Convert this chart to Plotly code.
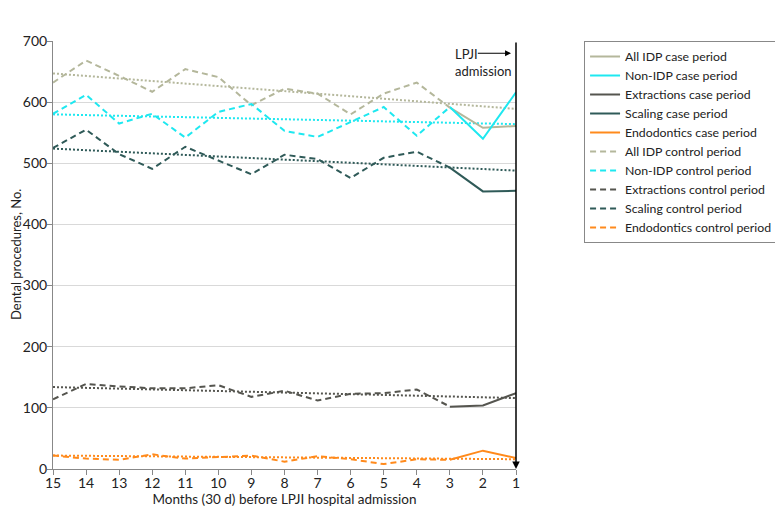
import plotly.graph_objects as go

# ---- data ----
months_control = [15, 14, 13, 12, 11, 10, 9, 8, 7, 6, 5, 4, 3]
months_case = [3, 2, 1]

all_idp_control = [632, 668, 643, 617, 654, 641, 595, 622, 614, 580, 614, 632, 591]
all_idp_case = [591, 558, 561]

non_idp_control = [581, 612, 565, 581, 542, 584, 597, 553, 543, 568, 592, 545, 592]
non_idp_case = [592, 540, 616]

extractions_control = [114, 139, 135, 132, 132, 137, 118, 128, 112, 123, 124, 130, 102]
extractions_case = [102, 104, 124]

scaling_control = [525, 555, 515, 491, 527, 505, 482, 514, 507, 476, 509, 519, 493]
scaling_case = [493, 454, 455]

endo_control = [22, 17, 15, 24, 17, 20, 22, 12, 21, 16, 8, 16, 15]
endo_case = [15, 30, 18]

# trend lines (dotted), values at month 15 and month 1
trend_months = [15, 1]
all_idp_trend = [647, 589]
non_idp_trend = [580, 564]
extractions_trend = [134, 116]
scaling_trend = [524, 488]
endo_trend = [22, 16]

names = ["All IDP", "Non-IDP", "Extractions", "Scaling", "Endodontics"]
colors = ["#b4b79b", "#1ee8f0", "#55554f", "#2f5a58", "#ff8a1c"]
controls = [all_idp_control, non_idp_control, extractions_control, scaling_control, endo_control]
cases = [all_idp_case, non_idp_case, extractions_case, scaling_case, endo_case]
trends = [all_idp_trend, non_idp_trend, extractions_trend, scaling_trend, endo_trend]

FONT = "Lato"
TXT = "#222"

fig = go.Figure()

for n, c, t in zip(names, colors, trends):
    fig.add_trace(go.Scatter(x=trend_months, y=t, mode="lines", showlegend=False,
                             hoverinfo="skip",
                             line=dict(color=c, width=2, dash="2px,2px")))

for n, c, v in zip(names, colors, cases):
    fig.add_trace(go.Scatter(x=months_case, y=v, mode="lines", name=f"{n} case period",
                             line=dict(color=c, width=2)))

for n, c, v in zip(names, colors, controls):
    fig.add_trace(go.Scatter(x=months_control, y=v, mode="lines", name=f"{n} control period",
                             line=dict(color=c, width=2, dash="6px,4px")))

annotations = [
    # period arrows
    dict(x=3.62, y=713, ax=14.92, ay=713, xref="x", yref="y", axref="x", ayref="y",
         text="", showarrow=True, arrowhead=2, arrowside="end+start", arrowsize=1,
         arrowwidth=1.5, arrowcolor="black"),
    dict(x=1.08, y=713, ax=3.58, ay=713, xref="x", yref="y", axref="x", ayref="y",
         text="", showarrow=True, arrowhead=2, arrowside="end+start", arrowsize=1,
         arrowwidth=1.5, arrowcolor="black"),
    dict(x=9.3, y=733, xref="x", yref="y", text="Control period", showarrow=False,
         font=dict(size=13, color=TXT, family=FONT)),
    dict(x=2.35, y=733, xref="x", yref="y", text="Case period", showarrow=False,
         font=dict(size=13, color=TXT, family=FONT)),
    # admission line
    dict(x=1, y=0, ax=1, ay=700, xref="x", yref="y", axref="x", ayref="y",
         text="", showarrow=True, arrowhead=2, arrowsize=1, arrowwidth=1.5,
         arrowcolor="black"),
    dict(x=2.92, y=695, xref="x", yref="y", xanchor="left", yanchor="top", align="left",
         text="LPJI<br>admission", showarrow=False,
         font=dict(size=13, color=TXT, family=FONT)),
    dict(x=1.15, y=680, ax=2.2, ay=680, xref="x", yref="y", axref="x", ayref="y",
         text="", showarrow=True, arrowhead=2, arrowsize=1, arrowwidth=1.2,
         arrowcolor="black"),
    # y-axis title
    dict(x=-0.0799, y=0.5, xref="paper", yref="paper", xanchor="center", yanchor="middle",
         text="Dental procedures, No.", textangle=-90, showarrow=False, borderpad=0,
         font=dict(size=13, color=TXT, family=FONT)),
]

# page has an 8px body margin, so the figure is sized to fit inside the window
fig.update_layout(
    width=775, height=519,
    margin=dict(l=45, r=267, t=33, b=58, autoexpand=False),
    paper_bgcolor="white", plot_bgcolor="white",
    font=dict(family=FONT, size=14, color=TXT),
    showlegend=True,
    legend=dict(x=1.147, y=1.0, xanchor="left", yanchor="top",
                bordercolor="#888", borderwidth=1, bgcolor="white",
                font=dict(size=12.3, family=FONT, color=TXT),
                itemwidth=30, traceorder="normal", tracegroupgap=0),
    annotations=annotations,
    xaxis=dict(range=[15, 1], tickmode="array", tickvals=list(range(15, 0, -1)),
               ticktext=[str(i) for i in range(15, 0, -1)],
               showgrid=False, zeroline=False, showline=True, linecolor="#888",
               linewidth=1, ticks="outside", ticklen=5, tickcolor="#888",
               tickfont=dict(size=14), ticklabelstandoff=-4,
               title=dict(text="Months (30 d) before LPJI hospital admission",
                          font=dict(size=13.5, family=FONT), standoff=4)),
    yaxis=dict(range=[0, 700], dtick=100, showgrid=True, gridcolor="#d9d9d9",
               zeroline=False, showline=True, linecolor="#888", linewidth=1,
               ticks="outside", ticklen=5, tickcolor="#888",
               tickfont=dict(size=14), ticklabelstandoff=-3),
)

fig.write_html("out.html")
